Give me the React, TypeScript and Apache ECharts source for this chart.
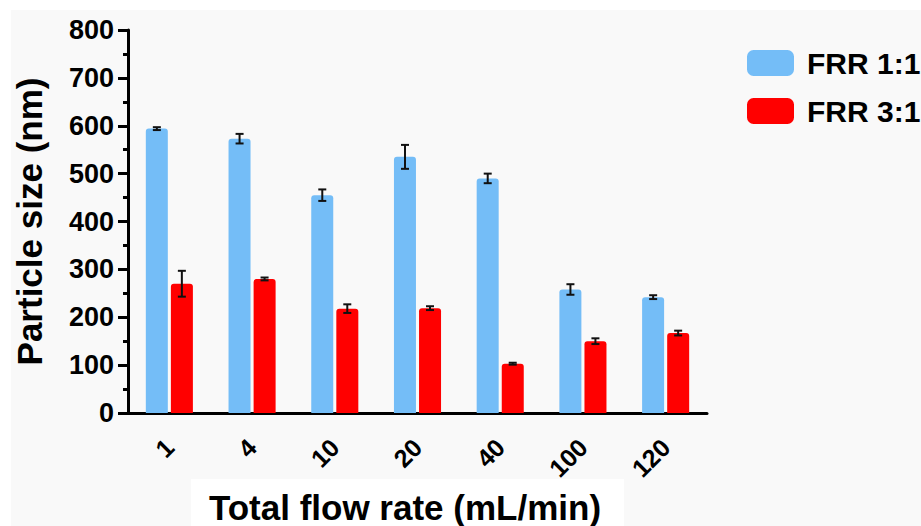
import React, { useEffect, useRef } from "react";
import * as echarts from "echarts";

const categories = ["1", "4", "10", "20", "40", "100", "120"];
const frr11 = [594, 573, 455, 535, 490, 258, 242];
const frr11Err = [3, 10, 12, 25, 10, 11, 4];
const frr31 = [270, 280, 218, 219, 103, 150, 167];
const frr31Err = [27, 3, 9, 4, 2, 6, 5];
const seriesNames = ["FRR 1:1", "FRR 3:1"];

const FONT = "'Liberation Sans', Arial, Helvetica, sans-serif";
const BLUE = "#74BDF7";
const RED = "#FF0000";
const BAR_W = 22;
const OFFSET = 12.5;

function errorSeries(values: number[], errs: number[], offset: number) {
  return {
    type: "custom",
    silent: true,
    z: 5,
    data: values.map((v, i) => [i, v - errs[i], v + errs[i]]),
    renderItem: (params: any, api: any) => {
      const lo = api.coord([api.value(0), api.value(1)]);
      const hi = api.coord([api.value(0), api.value(2)]);
      const x = lo[0] + offset;
      const cap = 4;
      const style = { stroke: "#111", lineWidth: 2 };
      return {
        type: "group",
        children: [
          { type: "line", shape: { x1: x, y1: lo[1], x2: x, y2: hi[1] }, style },
          { type: "line", shape: { x1: x - cap, y1: lo[1], x2: x + cap, y2: lo[1] }, style },
          { type: "line", shape: { x1: x - cap, y1: hi[1], x2: x + cap, y2: hi[1] }, style },
        ],
      };
    },
  };
}

export default function App() {
  const ref = useRef<HTMLDivElement>(null);
  useEffect(() => {
    if (!ref.current) return;
    const chart = echarts.init(ref.current, undefined, { renderer: "svg" });
    chart.setOption({
      animation: false,
      backgroundColor: "#ffffff",
      graphic: [
        { type: "rect", z: -20, shape: { x: 11, y: 10, width: 910, height: 516 }, style: { fill: "#f9f9f9" } },
        { type: "rect", z: -19, shape: { x: 191, y: 479, width: 433, height: 47 }, style: { fill: "#ffffff" } },
      ],
      legend: {
        orient: "vertical",
        left: 742,
        top: 43,
        itemWidth: 47,
        itemHeight: 26,
        itemGap: 18,
        icon: "roundRect",
        data: seriesNames,
        textStyle: { fontFamily: FONT, fontWeight: "bold", fontSize: 30, color: "#000", padding: [0, 0, 0, 8] },
      },
      grid: { left: 128, right: 214, top: 30, bottom: 113, containLabel: false, outerBoundsMode: "none" },
      xAxis: {
        type: "category",
        data: categories,
        name: "Total flow rate (mL/min)",
        nameLocation: "middle",
        nameGap: 77,
        nameTextStyle: { fontFamily: FONT, fontWeight: "bold", fontSize: 35, color: "#000", padding: [0, 25, 0, 0] },
        axisLine: { lineStyle: { color: "#000", width: 3 } },
        axisTick: { alignWithLabel: true, length: 10, lineStyle: { color: "#000", width: 3 } },
        axisLabel: { rotate: 45, margin: 30, fontFamily: FONT, fontWeight: "bold", fontSize: 25, color: "#000" },
      },
      yAxis: {
        type: "value",
        min: 0,
        max: 800,
        interval: 100,
        name: "Particle size (nm)",
        nameLocation: "middle",
        nameGap: 81,
        nameTextStyle: { fontFamily: FONT, fontWeight: "bold", fontSize: 35, color: "#000" },
        axisLine: { show: true, lineStyle: { color: "#000", width: 3 } },
        axisTick: { show: true, length: 10, lineStyle: { color: "#000", width: 3 } },
        minorTick: { show: true, splitNumber: 2, length: 5, lineStyle: { color: "#000", width: 3 } },
        splitLine: { show: false },
        axisLabel: { margin: 14, fontFamily: FONT, fontWeight: "bold", fontSize: 27, color: "#000" },
      },
      series: [
        {
          name: seriesNames[0],
          type: "bar",
          data: frr11,
          barWidth: BAR_W,
          barGap: "14%",
          itemStyle: { color: BLUE, borderRadius: [3, 3, 0, 0] },
        },
        {
          name: seriesNames[1],
          type: "bar",
          data: frr31,
          barWidth: BAR_W,
          itemStyle: { color: RED, borderRadius: [3, 3, 0, 0] },
        },
        errorSeries(frr11, frr11Err, -OFFSET),
        errorSeries(frr31, frr31Err, OFFSET),
      ],
    });
    return () => chart.dispose();
  }, []);
  return <div ref={ref} style={{ position: "fixed", left: 0, top: 0, width: 921, height: 526 }} />;
}
